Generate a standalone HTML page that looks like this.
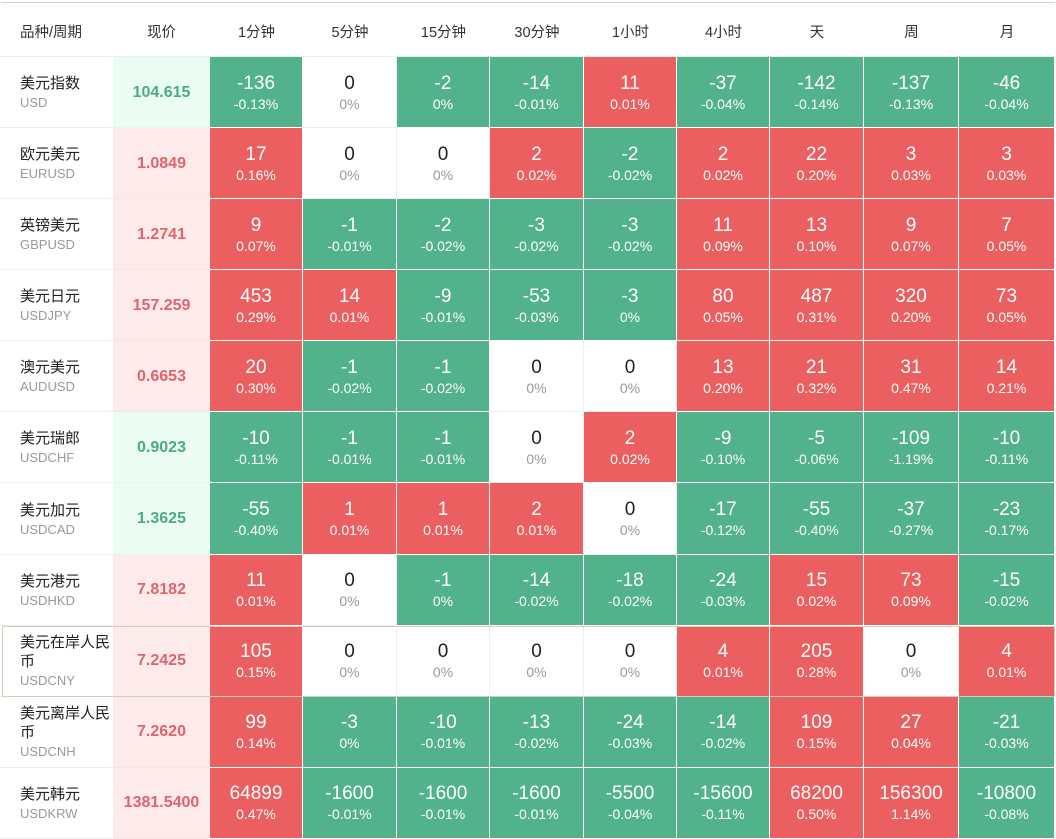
<!DOCTYPE html>
<html>
<head>
<meta charset="utf-8">
<style>
html,body{margin:0;padding:0}
body{width:1056px;height:839px;overflow:hidden;background:#fff;font-family:"Liberation Sans","Noto Sans CJK SC",sans-serif;position:relative}
.top{position:absolute;left:1px;top:2px;width:1054px;height:1px;background:#d4d4d4}
.cols{grid-template-columns:113px 97px 93px 94px 93px 94px 93px 93px 94px 95px 96px}
.hd{position:absolute;top:3px;left:0;height:53px;width:1055px;display:grid;border-bottom:1px solid #eee}
.hd div{display:flex;align-items:center;justify-content:center;font-size:14.5px;color:#333;padding-top:3px}
.hd div:first-child{justify-content:flex-start;padding-left:20px}
.tb{position:absolute;top:57px;left:0;width:1055px;display:grid;grid-template-rows:repeat(11,71.09px)}
.nm{box-sizing:border-box;padding-left:20px;padding-top:2px;display:flex;flex-direction:column;justify-content:center;border-bottom:1px solid #eee}
.nm b{font-weight:normal;font-size:15px;line-height:19px;color:#222;width:92px}
.nm i{font-style:normal;font-size:13px;line-height:19px;color:#999}
.pg,.pr{box-sizing:border-box;display:flex;align-items:center;justify-content:center;font-weight:bold;font-size:16px;padding-top:1px;border-bottom:1px solid rgba(0,0,0,0.02)}
.pg{background:#ebfcf5;color:#4fa984}
.pr{background:#fdeaea;color:#e0646c}
.c{box-sizing:border-box;border-right:1px solid #fff;border-bottom:1px solid #fff;display:flex;flex-direction:column;align-items:center;justify-content:center;padding-top:3px;color:#fff}
.c span{font-size:19px;line-height:21px}
.c em{font-style:normal;font-size:14px;line-height:21px}
.g{background:#52b28c}
.r{background:#eb5f61}
.w{background:#fff;color:#222;border-color:#eee}
.w em{color:#999}
.hl{position:absolute;left:2px;top:626px;width:1053px;height:71px;box-sizing:border-box;border:1px solid #d8cdb9;pointer-events:none}
</style>
</head>
<body>
<div class="top"></div>
<div class="hd cols">
<div>品种/周期</div><div>现价</div><div>1分钟</div><div>5分钟</div><div>15分钟</div><div>30分钟</div><div>1小时</div><div>4小时</div><div>天</div><div>周</div><div>月</div>
</div>
<div class="tb cols">
<div class="nm"><b>美元指数</b><i>USD</i></div><div class="pg">104.615</div>
<div class="c g"><span>-136</span><em>-0.13%</em></div><div class="c w"><span>0</span><em>0%</em></div><div class="c g"><span>-2</span><em>0%</em></div><div class="c g"><span>-14</span><em>-0.01%</em></div><div class="c r"><span>11</span><em>0.01%</em></div><div class="c g"><span>-37</span><em>-0.04%</em></div><div class="c g"><span>-142</span><em>-0.14%</em></div><div class="c g"><span>-137</span><em>-0.13%</em></div><div class="c g"><span>-46</span><em>-0.04%</em></div>

<div class="nm"><b>欧元美元</b><i>EURUSD</i></div><div class="pr">1.0849</div>
<div class="c r"><span>17</span><em>0.16%</em></div><div class="c w"><span>0</span><em>0%</em></div><div class="c w"><span>0</span><em>0%</em></div><div class="c r"><span>2</span><em>0.02%</em></div><div class="c g"><span>-2</span><em>-0.02%</em></div><div class="c r"><span>2</span><em>0.02%</em></div><div class="c r"><span>22</span><em>0.20%</em></div><div class="c r"><span>3</span><em>0.03%</em></div><div class="c r"><span>3</span><em>0.03%</em></div>

<div class="nm"><b>英镑美元</b><i>GBPUSD</i></div><div class="pr">1.2741</div>
<div class="c r"><span>9</span><em>0.07%</em></div><div class="c g"><span>-1</span><em>-0.01%</em></div><div class="c g"><span>-2</span><em>-0.02%</em></div><div class="c g"><span>-3</span><em>-0.02%</em></div><div class="c g"><span>-3</span><em>-0.02%</em></div><div class="c r"><span>11</span><em>0.09%</em></div><div class="c r"><span>13</span><em>0.10%</em></div><div class="c r"><span>9</span><em>0.07%</em></div><div class="c r"><span>7</span><em>0.05%</em></div>

<div class="nm"><b>美元日元</b><i>USDJPY</i></div><div class="pr">157.259</div>
<div class="c r"><span>453</span><em>0.29%</em></div><div class="c r"><span>14</span><em>0.01%</em></div><div class="c g"><span>-9</span><em>-0.01%</em></div><div class="c g"><span>-53</span><em>-0.03%</em></div><div class="c g"><span>-3</span><em>0%</em></div><div class="c r"><span>80</span><em>0.05%</em></div><div class="c r"><span>487</span><em>0.31%</em></div><div class="c r"><span>320</span><em>0.20%</em></div><div class="c r"><span>73</span><em>0.05%</em></div>

<div class="nm"><b>澳元美元</b><i>AUDUSD</i></div><div class="pr">0.6653</div>
<div class="c r"><span>20</span><em>0.30%</em></div><div class="c g"><span>-1</span><em>-0.02%</em></div><div class="c g"><span>-1</span><em>-0.02%</em></div><div class="c w"><span>0</span><em>0%</em></div><div class="c w"><span>0</span><em>0%</em></div><div class="c r"><span>13</span><em>0.20%</em></div><div class="c r"><span>21</span><em>0.32%</em></div><div class="c r"><span>31</span><em>0.47%</em></div><div class="c r"><span>14</span><em>0.21%</em></div>

<div class="nm"><b>美元瑞郎</b><i>USDCHF</i></div><div class="pg">0.9023</div>
<div class="c g"><span>-10</span><em>-0.11%</em></div><div class="c g"><span>-1</span><em>-0.01%</em></div><div class="c g"><span>-1</span><em>-0.01%</em></div><div class="c w"><span>0</span><em>0%</em></div><div class="c r"><span>2</span><em>0.02%</em></div><div class="c g"><span>-9</span><em>-0.10%</em></div><div class="c g"><span>-5</span><em>-0.06%</em></div><div class="c g"><span>-109</span><em>-1.19%</em></div><div class="c g"><span>-10</span><em>-0.11%</em></div>

<div class="nm"><b>美元加元</b><i>USDCAD</i></div><div class="pg">1.3625</div>
<div class="c g"><span>-55</span><em>-0.40%</em></div><div class="c r"><span>1</span><em>0.01%</em></div><div class="c r"><span>1</span><em>0.01%</em></div><div class="c r"><span>2</span><em>0.01%</em></div><div class="c w"><span>0</span><em>0%</em></div><div class="c g"><span>-17</span><em>-0.12%</em></div><div class="c g"><span>-55</span><em>-0.40%</em></div><div class="c g"><span>-37</span><em>-0.27%</em></div><div class="c g"><span>-23</span><em>-0.17%</em></div>

<div class="nm"><b>美元港元</b><i>USDHKD</i></div><div class="pr">7.8182</div>
<div class="c r"><span>11</span><em>0.01%</em></div><div class="c w"><span>0</span><em>0%</em></div><div class="c g"><span>-1</span><em>0%</em></div><div class="c g"><span>-14</span><em>-0.02%</em></div><div class="c g"><span>-18</span><em>-0.02%</em></div><div class="c g"><span>-24</span><em>-0.03%</em></div><div class="c r"><span>15</span><em>0.02%</em></div><div class="c r"><span>73</span><em>0.09%</em></div><div class="c g"><span>-15</span><em>-0.02%</em></div>

<div class="nm"><b>美元在岸人民币</b><i>USDCNY</i></div><div class="pr">7.2425</div>
<div class="c r"><span>105</span><em>0.15%</em></div><div class="c w"><span>0</span><em>0%</em></div><div class="c w"><span>0</span><em>0%</em></div><div class="c w"><span>0</span><em>0%</em></div><div class="c w"><span>0</span><em>0%</em></div><div class="c r"><span>4</span><em>0.01%</em></div><div class="c r"><span>205</span><em>0.28%</em></div><div class="c w"><span>0</span><em>0%</em></div><div class="c r"><span>4</span><em>0.01%</em></div>

<div class="nm"><b>美元离岸人民币</b><i>USDCNH</i></div><div class="pr">7.2620</div>
<div class="c r"><span>99</span><em>0.14%</em></div><div class="c g"><span>-3</span><em>0%</em></div><div class="c g"><span>-10</span><em>-0.01%</em></div><div class="c g"><span>-13</span><em>-0.02%</em></div><div class="c g"><span>-24</span><em>-0.03%</em></div><div class="c g"><span>-14</span><em>-0.02%</em></div><div class="c r"><span>109</span><em>0.15%</em></div><div class="c r"><span>27</span><em>0.04%</em></div><div class="c g"><span>-21</span><em>-0.03%</em></div>

<div class="nm"><b>美元韩元</b><i>USDKRW</i></div><div class="pr">1381.5400</div>
<div class="c r"><span>64899</span><em>0.47%</em></div><div class="c g"><span>-1600</span><em>-0.01%</em></div><div class="c g"><span>-1600</span><em>-0.01%</em></div><div class="c g"><span>-1600</span><em>-0.01%</em></div><div class="c g"><span>-5500</span><em>-0.04%</em></div><div class="c g"><span>-15600</span><em>-0.11%</em></div><div class="c r"><span>68200</span><em>0.50%</em></div><div class="c r"><span>156300</span><em>1.14%</em></div><div class="c g"><span>-10800</span><em>-0.08%</em></div>
</div>
<div class="hl"></div>
</body>
</html>
